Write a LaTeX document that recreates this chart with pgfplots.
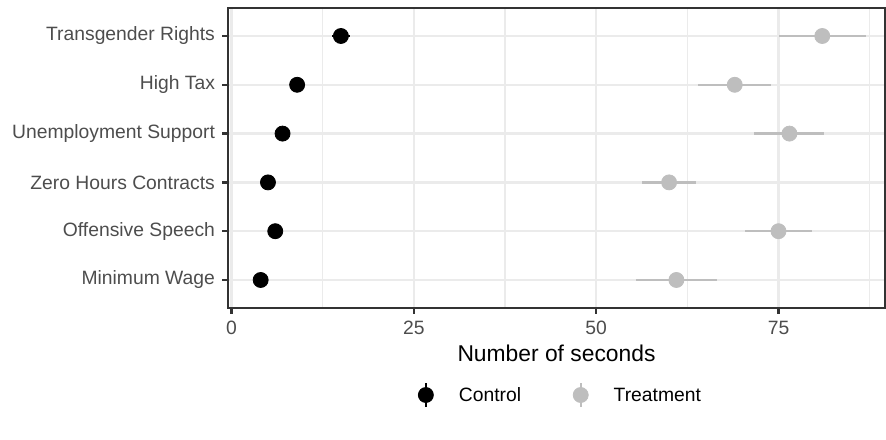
\documentclass[border=0pt]{standalone}
\usepackage{pgfplots}
\pgfplotsset{compat=1.18}
\usepackage{fontspec}
\setmainfont{Liberation Sans}

\definecolor{grey20}{HTML}{333333}
\definecolor{grey30}{HTML}{4D4D4D}
\definecolor{grey92}{HTML}{EBEBEB}
\definecolor{treat}{HTML}{BEBEBE}

% y: 1 = Minimum Wage ... 6 = Transgender Rights
\pgfplotstableread{
y x err
6 15.0 1.2
5 9.0 0.3
4 7.0 0.3
3 5.0 0.3
2 6.0 0.3
1 4.0 0.3
}\control

\pgfplotstableread{
y x err
6 81.0 6.0
5 69.0 5.0
4 76.5 4.8
3 60.0 3.7
2 75.0 4.6
1 61.0 5.5
}\treatment

% legend key: vertical range with a dot
\pgfplotsset{
  rangekey/.style={legend image code/.code={
    \path[draw=none, fill=none] (-8.64bp,-5bp) rectangle (8.64bp,5bp);
    \draw[#1, line width=1.07bp] (0bp,-5.8bp) -- (0bp,5.8bp);
    \fill[#1] (0bp,0bp) circle (3.6bp);
  }},
}

\begin{document}
\begin{tikzpicture}
\useasboundingbox (-109.44bp,-62.88bp) rectangle (315.84bp,147.84bp);
\begin{axis}[
    at={(0,0)}, anchor=south west,
    scale only axis,
    width=315.36bp, height=144bp,
    xmin=-0.48, xmax=89.6,
    ymin=0.426, ymax=6.574,
    xtick={0,25,50,75},
    minor xtick={12.5,37.5,62.5,87.5},
    ytick={1,2,3,4,5,6},
    yticklabels={Minimum Wage,Offensive Speech,Zero Hours Contracts,Unemployment Support,High Tax,Transgender Rights},
    xtick pos=bottom, ytick pos=left,
    tick align=outside,
    major tick length=2.75bp, minor tick length=0pt,
    major tick style={grey20, line width=1.07bp},
    xmajorgrids, xminorgrids, ymajorgrids,
    major grid style={grey92, line width=1.07bp},
    minor grid style={grey92, line width=0.7bp},
    axis line style={grey20, line width=1.07bp},
    tick label style={font=\fontsize{9.3}{11}\selectfont, text=grey30},
    /pgf/number format/assume math mode=true,
    xlabel={Number of seconds},
    xlabel style={font=\fontsize{11}{13}\selectfont, yshift=2bp},
    legend columns=2,
    legend style={at={(0.5,-0.29)}, anchor=center, draw=none, fill=none,
        font=\fontsize{9.3}{11}\selectfont,
        nodes={text depth=0pt},
        /tikz/every odd column/.append style={column sep=5.2bp},
        /tikz/every even column/.append style={column sep=18bp}},
]
\addplot[only marks, mark=*, mark size=3.6bp, black, rangekey=black,
    error bars/.cd, x dir=both, x explicit, error mark=none,
    error bar style={black, line width=1.07bp}]
    table[x=x, y=y, x error=err]{\control};
\addlegendentry{Control}
\addplot[only marks, mark=*, mark size=3.6bp, treat, rangekey=treat,
    mark options={fill=treat, draw=treat},
    error bars/.cd, x dir=both, x explicit, error mark=none,
    error bar style={treat, line width=1.07bp}]
    table[x=x, y=y, x error=err]{\treatment};
\addlegendentry{Treatment}
\end{axis}
\end{tikzpicture}
\end{document}
